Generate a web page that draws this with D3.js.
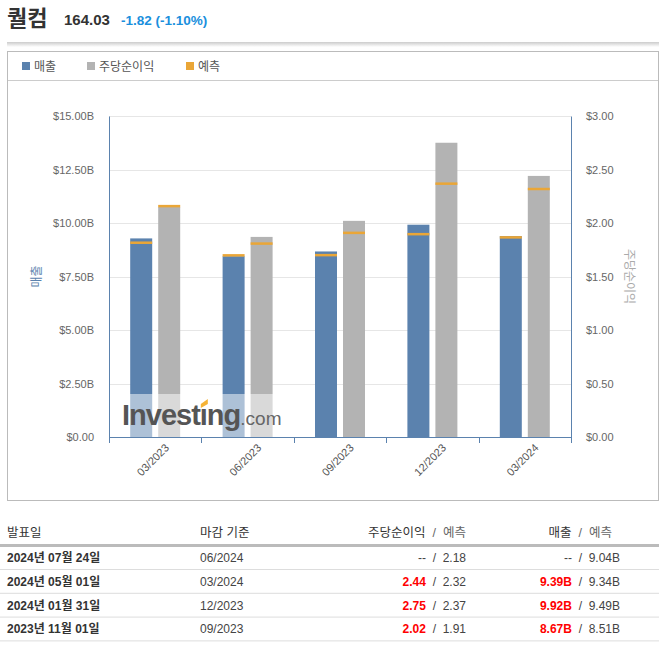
<!DOCTYPE html>
<html>
<head>
<meta charset="utf-8">
<script src="https://cdn.jsdelivr.net/npm/d3@7"></script>
<style>
  body { margin: 0; background: #fff; font-family: "Liberation Sans", Arial, "Noto Sans CJK KR", sans-serif; }
  svg text { font-family: "Liberation Sans", Arial, "Noto Sans CJK KR", sans-serif; }
</style>
</head>
<body>
<div id="chart"></div>
<script>
// 분기별 실적 (매출: 십억 달러, 주당순이익: 달러)
const quarters = ["03/2023", "06/2023", "09/2023", "12/2023", "03/2024"];
const revenue = [9.28, 8.45, 8.67, 9.92, 9.39];
const revenueForecast = [9.09, 8.50, 8.51, 9.49, 9.34];
const eps = [2.15, 1.87, 2.02, 2.75, 2.44];
const epsForecast = [2.16, 1.81, 1.91, 2.37, 2.32];
const revTicks = [0, 2.5, 5, 7.5, 10, 12.5, 15];
const epsTicks = [0, 0.5, 1, 1.5, 2, 2.5, 3];

// 하단 표
const tableHeader = ["발표일", "마감 기준", "주당순이익", "매출"];
const tableDates = ["2024년 07월 24일", "2024년 05월 01일", "2024년 01월 31일", "2023년 11월 01일"];
const tablePeriods = ["06/2024", "03/2024", "12/2023", "09/2023"];
const tableEps = ["--", "2.44", "2.75", "2.02"];
const tableEpsFc = ["2.18", "2.32", "2.37", "1.91"];
const tableRev = ["--", "9.39B", "9.92B", "8.67B"];
const tableRevFc = ["9.04B", "9.34B", "9.49B", "8.51B"];

const blue = "#5b82ae", grey = "#b3b3b3", orange = "#eaa637";

const svg = d3.select("#chart").append("svg").attr("width", 667).attr("height", 646);

// 헤더
const head = svg.append("g");
head.append("text").attr("x", 7).attr("y", 26).text("퀄컴")
  .style("font-size", "22px").style("font-weight", "bold").style("fill", "#333")
  .style("font-family", "'Noto Sans CJK KR', sans-serif");
head.append("text").attr("x", 64).attr("y", 25).text("164.03")
  .style("font-size", "15px").style("font-weight", "bold").style("fill", "#333");
head.append("text").attr("x", 121).attr("y", 25).text("-1.82 (-1.10%)")
  .style("font-size", "13.5px").style("font-weight", "bold").style("fill", "#1a8fdd");
const defs = svg.append("defs");
const grad = defs.append("linearGradient").attr("id", "shadow").attr("x1", 0).attr("x2", 0).attr("y1", 0).attr("y2", 1);
grad.append("stop").attr("offset", 0).attr("stop-color", "#ccc");
grad.append("stop").attr("offset", 1).attr("stop-color", "#fff");
svg.append("rect").attr("x", 7).attr("y", 42).attr("width", 652).attr("height", 5).attr("fill", "url(#shadow)");

// 차트 박스
svg.append("rect").attr("x", 7.5).attr("y", 51.5).attr("width", 651).attr("height", 449)
  .attr("fill", "none").attr("stroke", "#bbb");
svg.append("line").attr("x1", 8).attr("x2", 658).attr("y1", 80.5).attr("y2", 80.5).attr("stroke", "#ccc");

// 범례
const legendItems = [["매출", blue, 22], ["주당순이익", grey, 87], ["예측", orange, 186]];
const legend = svg.append("g").selectAll("g").data(legendItems).enter().append("g")
  .attr("transform", d => `translate(${d[2]},62)`);
legend.append("rect").attr("width", 8).attr("height", 8).attr("fill", d => d[1]);
legend.append("text").attr("x", 12).attr("y", 8.5).text(d => d[0])
  .style("font-size", "12px").style("fill", "#555");

// 플롯
const plotL = 109, plotR = 571, plotT = 116, plotB = 437;
const x = d3.scaleBand().domain(quarters).range([plotL, plotR]);
const yRev = d3.scaleLinear().domain([0, 15]).range([plotB, plotT]);
const yEps = d3.scaleLinear().domain([0, 3]).range([plotB, plotT]);
const barW = 22, gap = 6;

const g = svg.append("g");
g.selectAll(".grid").data(revTicks).enter().append("line")
  .attr("x1", plotL).attr("x2", plotR)
  .attr("y1", d => Math.round(yRev(d)) + 0.5).attr("y2", d => Math.round(yRev(d)) + 0.5)
  .attr("stroke", "#e6e6e6");

const bands = g.selectAll(".q").data(quarters).enter().append("g")
  .attr("transform", d => `translate(${x(d) + x.bandwidth() / 2},0)`);
bands.append("rect").attr("x", -barW - gap / 2).attr("width", barW)
  .attr("y", (d, i) => yRev(revenue[i])).attr("height", (d, i) => plotB - yRev(revenue[i]))
  .attr("fill", blue);
bands.append("rect").attr("x", gap / 2).attr("width", barW)
  .attr("y", (d, i) => yEps(eps[i])).attr("height", (d, i) => plotB - yEps(eps[i]))
  .attr("fill", grey);
bands.append("rect").attr("x", -barW - gap / 2).attr("width", barW)
  .attr("y", (d, i) => yRev(revenueForecast[i]) - 1).attr("height", 2.5).attr("fill", orange);
bands.append("rect").attr("x", gap / 2).attr("width", barW)
  .attr("y", (d, i) => yEps(epsForecast[i]) - 1).attr("height", 2.5).attr("fill", orange);

// 워터마크
g.append("rect").attr("x", 118).attr("y", 394).attr("width", 172).attr("height", 43)
  .attr("fill", "#fff").attr("opacity", 0.5);
const wm = g.append("text").attr("x", 122).attr("y", 425).style("font-size", "29px").style("letter-spacing", "-1px");
wm.append("tspan").text("Investing").style("font-weight", "bold").style("fill", "#555");
wm.append("tspan").text(".com").style("font-size", "19px").style("fill", "#666").style("letter-spacing", "0px");
// 'i' 위 주황색 점
const iPos = wm.node().getStartPositionOfChar(6);
g.append("rect").attr("x", iPos.x + 0.5).attr("y", 399).attr("width", 8).attr("height", 9).attr("fill", "#fff");
g.append("path").attr("d", `M ${iPos.x + 1} 408 l 0 -4 l 7 -5 l 0 5 z`).attr("fill", "#f5b335");

// 축
const axisL = g.append("g").attr("transform", `translate(${plotL},0)`)
  .call(d3.axisLeft(yRev).tickValues(revTicks).tickSize(0).tickPadding(15)
    .tickFormat(d => d === 0 ? "$0.00" : "$" + d3.format(".2f")(d) + "B"));
const axisR = g.append("g").attr("transform", `translate(${plotR},0)`)
  .call(d3.axisRight(yEps).tickValues(epsTicks).tickSize(0).tickPadding(15)
    .tickFormat(d => "$" + d3.format(".2f")(d)));
[axisL, axisR].forEach(a => {
  a.select(".domain").attr("stroke", blue);
  a.selectAll("text").style("font-size", "11px").style("fill", "#666");
});
const axisB = g.append("g").attr("transform", `translate(0,${plotB})`)
  .call(d3.axisBottom(x).tickSize(0).tickPadding(0));
axisB.select(".domain").attr("stroke", blue);
axisB.selectAll("text").attr("transform", "translate(9,6) rotate(-45)")
  .style("text-anchor", "end").style("font-size", "11px").style("fill", "#555");
g.selectAll(".btick").data(d3.range(quarters.length + 1)).enter().append("line")
  .attr("x1", i => Math.round(plotL + i * x.step()) + 0.5).attr("x2", i => Math.round(plotL + i * x.step()) + 0.5)
  .attr("y1", plotB).attr("y2", plotB + 6).attr("stroke", blue);

g.append("text").attr("transform", `translate(41,${(plotT + plotB) / 2}) rotate(-90)`)
  .style("text-anchor", "middle").style("font-size", "12px").style("fill", blue).text("매출");
g.append("text").attr("transform", `translate(625,${(plotT + plotB) / 2}) rotate(90)`)
  .style("text-anchor", "middle").style("font-size", "12px").style("fill", "#aaa").text("주당순이익");

// 표
const t = svg.append("g").style("font-size", "12px");
const th = t.append("g").style("fill", "#333").style("font-size", "12.5px");
th.append("text").attr("x", 7).attr("y", 537).text(tableHeader[0]);
th.append("text").attr("x", 200).attr("y", 537).text(tableHeader[1]);
const h3 = th.append("text").attr("x", 466).attr("y", 537).style("text-anchor", "end");
h3.append("tspan").text(tableHeader[2]);
h3.append("tspan").text("  /  예측").style("fill", "#666");
const h4 = th.append("text").attr("x", 612).attr("y", 537).style("text-anchor", "end");
h4.append("tspan").text(tableHeader[3]);
h4.append("tspan").text("  /  예측").style("fill", "#666");
t.append("rect").attr("x", 0).attr("y", 544).attr("width", 659).attr("height", 3).attr("fill", "#bbb");

const rows = t.selectAll(".row").data(tableDates).enter().append("g")
  .attr("transform", (d, i) => `translate(0,${562 + i * 23.8})`);
rows.append("text").attr("x", 7).text(d => d).style("font-weight", "bold").style("fill", "#333");
rows.append("text").attr("x", 200).text((d, i) => tablePeriods[i]).style("fill", "#444");
const c3 = rows.append("text").attr("x", 466).style("text-anchor", "end");
c3.append("tspan").text((d, i) => tableEps[i])
  .style("font-weight", (d, i) => tableEps[i] === "--" ? "normal" : "bold")
  .style("fill", (d, i) => tableEps[i] === "--" ? "#444" : "#f00");
c3.append("tspan").text((d, i) => "  /  " + tableEpsFc[i]).style("fill", "#444");
const c4 = rows.append("text").attr("x", 620).style("text-anchor", "end");
c4.append("tspan").text((d, i) => tableRev[i])
  .style("font-weight", (d, i) => tableRev[i] === "--" ? "normal" : "bold")
  .style("fill", (d, i) => tableRev[i] === "--" ? "#444" : "#f00");
c4.append("tspan").text((d, i) => "  /  " + tableRevFc[i]).style("fill", "#444");
rows.append("line").attr("x1", 0).attr("x2", 659).attr("y1", 7.5).attr("y2", 7.5).attr("stroke", "#ddd");
t.selectAll("text").style("white-space", "pre");
</script>
</body>
</html>
